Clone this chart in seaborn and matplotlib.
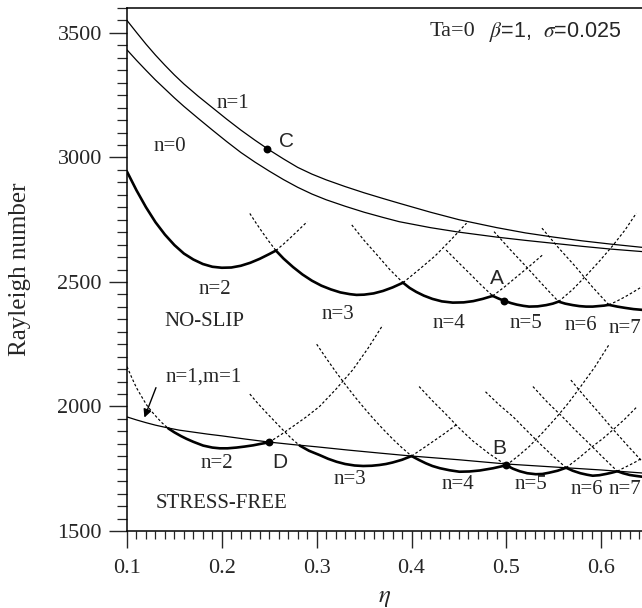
import matplotlib
matplotlib.use("Agg")
import matplotlib.pyplot as plt
from matplotlib.ticker import MultipleLocator
import seaborn as sns
import pandas as pd

sns.set_style("ticks")
plt.rcParams['font.family'] = ['Liberation Serif', 'DejaVu Serif']
plt.rcParams['mathtext.fontset'] = 'stix'

# ---------------- data ----------------
# NO-SLIP
ns_eta = [0.10, 0.11, 0.12, 0.13, 0.14, 0.15, 0.16, 0.175, 0.19, 0.205, 0.22,
          0.235, 0.25, 0.265, 0.28, 0.295, 0.31, 0.33, 0.35, 0.37, 0.387,
          0.42, 0.45, 0.49, 0.52, 0.55, 0.58, 0.61, 0.643]
ns_n1_Ra = [3550, 3502, 3455, 3411, 3370, 3331, 3295, 3246, 3200, 3154, 3110,
            3069, 3030, 2994, 2960, 2933, 2910, 2883, 2858, 2835, 2816,
            2780, 2750, 2718, 2697, 2680, 2665, 2652, 2639]
ns_n0_Ra = [3432, 3390, 3350, 3311, 3275, 3239, 3205, 3157, 3110, 3064, 3020,
            2981, 2945, 2911, 2880, 2853, 2830, 2804, 2780, 2759, 2742,
            2718, 2700, 2680, 2667, 2655, 2643, 2632, 2622]

ns_n2_solid_eta = [0.10, 0.11, 0.12, 0.13, 0.14, 0.15, 0.16, 0.17, 0.18, 0.19,
                   0.20, 0.21, 0.22, 0.23, 0.24, 0.25, 0.257]
ns_n2_solid_Ra = [2943, 2868, 2800, 2740, 2690, 2648, 2614, 2590, 2572, 2561,
                  2557, 2558, 2565, 2577, 2593, 2612, 2626]
ns_n2_dash_eta = [0.257, 0.265, 0.273, 0.281, 0.29]
ns_n2_dash_Ra = [2626, 2652, 2680, 2709, 2742]

ns_n3_dashL_eta = [0.2295, 0.236, 0.243, 0.25, 0.257]
ns_n3_dashL_Ra = [2775, 2737, 2698, 2661, 2626]
ns_n3_solid_eta = [0.257, 0.265, 0.275, 0.285, 0.295, 0.305, 0.315, 0.325,
                   0.335, 0.342, 0.35, 0.36, 0.37, 0.38, 0.391]
ns_n3_solid_Ra = [2626, 2594, 2560, 2530, 2505, 2485, 2470, 2458, 2451, 2448,
                  2449, 2454, 2464, 2478, 2497]
ns_n3_dashR_eta = [0.391, 0.408, 0.425, 0.441, 0.458]
ns_n3_dashR_Ra = [2497, 2550, 2605, 2667, 2736]

ns_n4_dashL_eta = [0.337, 0.35, 0.364, 0.377, 0.391]
ns_n4_dashL_Ra = [2729, 2667, 2607, 2550, 2497]
ns_n4_solid_eta = [0.391, 0.398, 0.405, 0.413, 0.422, 0.432, 0.4435, 0.455,
                   0.465, 0.475, 0.4856]
ns_n4_solid_Ra = [2497, 2476, 2460, 2445, 2432, 2422, 2417, 2418, 2423, 2432,
                  2444]
ns_n4_dashR_eta = [0.4856, 0.498, 0.51, 0.524, 0.538]
ns_n4_dashR_Ra = [2444, 2480, 2518, 2562, 2608]

ns_n5_dashL_eta = [0.4365, 0.449, 0.461, 0.473, 0.4856]
ns_n5_dashL_Ra = [2628, 2580, 2535, 2489, 2444]
ns_n5_solid_eta = [0.4856, 0.492, 0.498, 0.505, 0.511, 0.518, 0.524, 0.533,
                   0.542, 0.549, 0.555]
ns_n5_solid_Ra = [2444, 2433, 2424, 2415, 2409, 2404, 2401, 2402, 2407, 2413,
                  2421]
ns_n5_dashR_eta = [0.555, 0.57, 0.584, 0.598, 0.612, 0.625, 0.637]
ns_n5_dashR_Ra = [2421, 2470, 2525, 2583, 2645, 2708, 2776]

ns_n6_dashL_eta = [0.487, 0.504, 0.521, 0.538, 0.555]
ns_n6_dashL_Ra = [2702, 2630, 2561, 2490, 2421]
ns_n6_solid_eta = [0.555, 0.562, 0.57, 0.577, 0.584, 0.591, 0.597, 0.603,
                   0.608]
ns_n6_solid_Ra = [2421, 2413, 2407, 2403, 2401, 2401, 2403, 2405, 2408]
ns_n6_dashR_eta = [0.608, 0.616, 0.625, 0.634, 0.643]
ns_n6_dashR_Ra = [2408, 2422, 2440, 2460, 2481]

ns_n7_dashL_eta = [0.5375, 0.555, 0.573, 0.59, 0.608]
ns_n7_dashL_Ra = [2716, 2637, 2561, 2483, 2408]
ns_n7_solid_eta = [0.608, 0.617, 0.625, 0.634, 0.643]
ns_n7_solid_Ra = [2408, 2401, 2396, 2391, 2388]

# STRESS-FREE
sf_line_eta = [0.10, 0.11, 0.12, 0.13, 0.143, 0.155, 0.17, 0.185, 0.20, 0.225,
               0.25, 0.275, 0.30, 0.333, 0.366, 0.40, 0.45, 0.50, 0.55, 0.60,
               0.643]
sf_line_Ra = [1958, 1946, 1935, 1925, 1914, 1905, 1897, 1889, 1882, 1869,
              1857, 1847, 1838, 1825, 1813, 1801, 1786, 1769, 1757, 1745,
              1733]

sf_n2_dashL_eta = [0.10, 0.105, 0.11, 0.1155, 0.1207, 0.126, 0.1313, 0.137,
                   0.1435]
sf_n2_dashL_Ra = [2160, 2116, 2075, 2039, 2006, 1980, 1957, 1934, 1912]
sf_n2_solid_eta = [0.1435, 0.15, 0.157, 0.1628, 0.17, 0.1803, 0.19, 0.1979,
                   0.206, 0.2154, 0.224, 0.233, 0.241, 0.2498]
sf_n2_solid_Ra = [1912, 1896, 1881, 1870, 1858, 1843, 1835, 1832, 1832, 1835,
                  1839, 1844, 1850, 1856]
sf_n2_dashR_eta = [0.2498, 0.262, 0.275, 0.289, 0.303, 0.32, 0.338, 0.354,
                   0.3697]
sf_n2_dashR_Ra = [1856, 1886, 1920, 1958, 2000, 2068, 2147, 2233, 2327]

sf_n3_dashL_eta = [0.2295, 0.238, 0.247, 0.2558, 0.2646, 0.273, 0.2821]
sf_n3_dashL_Ra = [2050, 2012, 1975, 1940, 1905, 1873, 1843]
sf_n3_solid_eta = [0.2821, 0.292, 0.303, 0.312, 0.321, 0.33, 0.34, 0.349,
                   0.358, 0.366, 0.373, 0.38, 0.39, 0.40]
sf_n3_solid_Ra = [1843, 1822, 1805, 1790, 1778, 1769, 1763, 1761, 1762, 1765,
                  1769, 1775, 1786, 1801]
sf_n3_dashR_eta = [0.40, 0.411, 0.4225, 0.435, 0.447]
sf_n3_dashR_Ra = [1801, 1829, 1859, 1892, 1926]

sf_n4_dashL_eta = [0.30, 0.31, 0.32, 0.33, 0.34, 0.35, 0.36, 0.37, 0.38, 0.39,
                   0.40]
sf_n4_dashL_Ra = [2250, 2194, 2140, 2089, 2040, 1994, 1950, 1909, 1870, 1834,
                  1801]
sf_n4_solid_eta = [0.40, 0.408, 0.415, 0.422, 0.43, 0.44, 0.4505, 0.461,
                   0.472, 0.486, 0.50]
sf_n4_solid_Ra = [1801, 1785, 1772, 1761, 1752, 1744, 1738, 1739, 1743, 1752,
                  1764]
sf_n4_dashR_eta = [0.50, 0.512, 0.524, 0.538, 0.552, 0.565, 0.577, 0.593,
                   0.608]
sf_n4_dashR_Ra = [1764, 1800, 1839, 1894, 1953, 2012, 2073, 2157, 2247]

sf_n5_dashL_eta = [0.408, 0.422, 0.4365, 0.45, 0.4645, 0.482, 0.50]
sf_n5_dashL_Ra = [2080, 2023, 1968, 1914, 1862, 1810, 1764]
sf_n5_solid_eta = [0.50, 0.507, 0.514, 0.522, 0.531, 0.538, 0.545, 0.554,
                   0.563]
sf_n5_solid_Ra = [1764, 1750, 1740, 1732, 1728, 1729, 1734, 1742, 1754]
sf_n5_dashR_eta = [0.563, 0.577, 0.591, 0.602, 0.612, 0.625, 0.638]
sf_n5_dashR_Ra = [1754, 1795, 1840, 1872, 1905, 1950, 2000]

sf_n6_dashL_eta = [0.478, 0.492, 0.507, 0.521, 0.535, 0.549, 0.563]
sf_n6_dashL_Ra = [2059, 2008, 1959, 1905, 1852, 1801, 1754]
sf_n6_solid_eta = [0.563, 0.57, 0.578, 0.585, 0.591, 0.598, 0.605, 0.611,
                   0.617]
sf_n6_solid_Ra = [1754, 1742, 1732, 1726, 1722, 1724, 1729, 1734, 1740]
sf_n6_dashR_eta = [0.617, 0.623, 0.63, 0.637, 0.643]
sf_n6_dashR_Ra = [1740, 1752, 1765, 1779, 1793]

sf_n7_dashL_eta = [0.528, 0.543, 0.559, 0.573, 0.587, 0.602, 0.617]
sf_n7_dashL_Ra = [2080, 2018, 1959, 1904, 1852, 1795, 1740]
sf_n7_solid_eta = [0.617, 0.623, 0.63, 0.637, 0.643]
sf_n7_solid_Ra = [1740, 1732, 1725, 1721, 1718]

sf_n8_dashL_eta = [0.568, 0.583, 0.598, 0.613, 0.628, 0.643]
sf_n8_dashL_Ra = [2106, 2038, 1973, 1906, 1842, 1780]

# marked points
pt_names = ['C', 'A', 'B', 'D']
pt_eta = [0.2475, 0.498, 0.50, 0.2498]
pt_Ra = [3033, 2424, 1764, 1856]

x_ticks = [0.1, 0.2, 0.3, 0.4, 0.5, 0.6]
y_ticks = [1500, 2000, 2500, 3000, 3500]

# ---------------- figure ----------------
fig = plt.figure(figsize=(6.42, 6.08), dpi=100)
ax = fig.add_axes([127/642, 1-531/608, 1-127/642, (531-8)/608])

THIN = 0.9
THICK = 1.9
DASH = (0, (2.2, 1.8))


def seg(eta, ra, kind):
    df = pd.DataFrame({'eta': eta, 'Ra': ra})
    if kind == 'thin':
        kw = dict(linewidth=THIN, linestyle='-')
    elif kind == 'thick':
        kw = dict(linewidth=THICK, linestyle='-')
    else:
        kw = dict(linewidth=0.85, linestyle=DASH)
    sns.lineplot(data=df, x='eta', y='Ra', ax=ax, sort=False, estimator=None,
                 color='black', **kw)


seg(ns_eta, ns_n1_Ra, 'thin')
seg(ns_eta, ns_n0_Ra, 'thin')
seg(ns_n2_solid_eta, ns_n2_solid_Ra, 'thick')
seg(ns_n2_dash_eta, ns_n2_dash_Ra, 'dash')
seg(ns_n3_dashL_eta, ns_n3_dashL_Ra, 'dash')
seg(ns_n3_solid_eta, ns_n3_solid_Ra, 'thick')
seg(ns_n3_dashR_eta, ns_n3_dashR_Ra, 'dash')
seg(ns_n4_dashL_eta, ns_n4_dashL_Ra, 'dash')
seg(ns_n4_solid_eta, ns_n4_solid_Ra, 'thick')
seg(ns_n4_dashR_eta, ns_n4_dashR_Ra, 'dash')
seg(ns_n5_dashL_eta, ns_n5_dashL_Ra, 'dash')
seg(ns_n5_solid_eta, ns_n5_solid_Ra, 'thick')
seg(ns_n5_dashR_eta, ns_n5_dashR_Ra, 'dash')
seg(ns_n6_dashL_eta, ns_n6_dashL_Ra, 'dash')
seg(ns_n6_solid_eta, ns_n6_solid_Ra, 'thick')
seg(ns_n6_dashR_eta, ns_n6_dashR_Ra, 'dash')
seg(ns_n7_dashL_eta, ns_n7_dashL_Ra, 'dash')
seg(ns_n7_solid_eta, ns_n7_solid_Ra, 'thick')

seg(sf_line_eta, sf_line_Ra, 'thin')
seg(sf_n2_dashL_eta, sf_n2_dashL_Ra, 'dash')
seg(sf_n2_solid_eta, sf_n2_solid_Ra, 'thick')
seg(sf_n2_dashR_eta, sf_n2_dashR_Ra, 'dash')
seg(sf_n3_dashL_eta, sf_n3_dashL_Ra, 'dash')
seg(sf_n3_solid_eta, sf_n3_solid_Ra, 'thick')
seg(sf_n3_dashR_eta, sf_n3_dashR_Ra, 'dash')
seg(sf_n4_dashL_eta, sf_n4_dashL_Ra, 'dash')
seg(sf_n4_solid_eta, sf_n4_solid_Ra, 'thick')
seg(sf_n4_dashR_eta, sf_n4_dashR_Ra, 'dash')
seg(sf_n5_dashL_eta, sf_n5_dashL_Ra, 'dash')
seg(sf_n5_solid_eta, sf_n5_solid_Ra, 'thick')
seg(sf_n5_dashR_eta, sf_n5_dashR_Ra, 'dash')
seg(sf_n6_dashL_eta, sf_n6_dashL_Ra, 'dash')
seg(sf_n6_solid_eta, sf_n6_solid_Ra, 'thick')
seg(sf_n6_dashR_eta, sf_n6_dashR_Ra, 'dash')
seg(sf_n7_dashL_eta, sf_n7_dashL_Ra, 'dash')
seg(sf_n7_solid_eta, sf_n7_solid_Ra, 'thick')
seg(sf_n8_dashL_eta, sf_n8_dashL_Ra, 'dash')

pts = pd.DataFrame({'eta': pt_eta, 'Ra': pt_Ra, 'name': pt_names})
sns.scatterplot(data=pts, x='eta', y='Ra', ax=ax, color='black', s=32,
                edgecolor='black', linewidth=0, zorder=5)

# ---------------- text ----------------
LAB = 15
SERIF = ['Liberation Serif', 'DejaVu Serif']
SANS = ['Liberation Sans', 'DejaVu Sans']


def lab(x, y, s, fam=None, size=LAB):
    ax.text(x, y, s, ha='center', va='center', fontsize=size,
            family=fam if fam else SERIF, clip_on=False)


lab(0.212, 3218, 'n=1')
lab(0.145, 3043, 'n=0')
lab(0.268, 3063, 'C', SANS)
lab(0.1926, 2468, 'n=2')
lab(0.4905, 2515, 'A', SANS)
lab(0.182, 2341, 'NO-SLIP')
lab(0.322, 2370, 'n=3')
lab(0.439, 2334, 'n=4')
lab(0.5206, 2334, 'n=5')
lab(0.579, 2327, 'n=6')
lab(0.625, 2314, 'n=7')

lab(0.181, 2120, 'n=1,m=1')
ax.annotate('', xy=(0.1173, 1945), xytext=(0.1316, 2086),
            arrowprops=dict(arrowstyle='-|>', color='black', lw=1.0,
                            mutation_scale=12))
lab(0.1944, 1772, 'n=2')
lab(0.261, 1774, 'D', SANS)
lab(0.3347, 1705, 'n=3')
lab(0.1997, 1611, 'STRESS-FREE')
lab(0.4488, 1685, 'n=4')
lab(0.4926, 1832, 'B', SANS)
lab(0.526, 1685, 'n=5')
lab(0.585, 1667, 'n=6')
lab(0.625, 1667, 'n=7')

ax.text(0.419, 3504, 'Ta=0', ha='left', va='center', fontsize=16,
        family=SERIF)
ax.text(0.482, 3504, r'$\beta$=1,  $\sigma$=0.025', ha='left', va='center',
        fontsize=15.5, family=SANS)

# ---------------- axes ----------------
ax.set_xlim(0.1, 0.643)
ax.set_ylim(1500, 3600)
ax.set_xticks(x_ticks)
ax.set_xticklabels([f'{v:.1f}' for v in x_ticks])
ax.set_yticks(y_ticks)
ax.set_yticklabels([str(v) for v in y_ticks])
ax.xaxis.set_minor_locator(MultipleLocator(0.01))
ax.yaxis.set_minor_locator(MultipleLocator(50))
ax.tick_params(axis='x', which='major', direction='out', length=12, width=1.0,
               pad=8, labelsize=16)
ax.tick_params(axis='x', which='minor', direction='out', length=6, width=0.9)
ax.tick_params(axis='y', which='major', direction='out', length=13, width=1.0,
               pad=5, labelsize=16)
ax.tick_params(axis='y', which='minor', direction='out', length=7, width=0.9)
for s in ['left', 'bottom', 'top']:
    ax.spines[s].set_visible(True)
    ax.spines[s].set_linewidth(1.1)
    ax.spines[s].set_color('black')
ax.spines['right'].set_visible(False)

ax.set_xlabel(r'$\eta$', fontsize=18)
ax.xaxis.label.set_va('center')
ax.xaxis.set_label_coords(0.5, -0.128)
ax.set_ylabel('Rayleigh number', fontsize=18)
ax.yaxis.set_label_coords(-0.186, 0.5)

fig.savefig('out.png', dpi=100)
